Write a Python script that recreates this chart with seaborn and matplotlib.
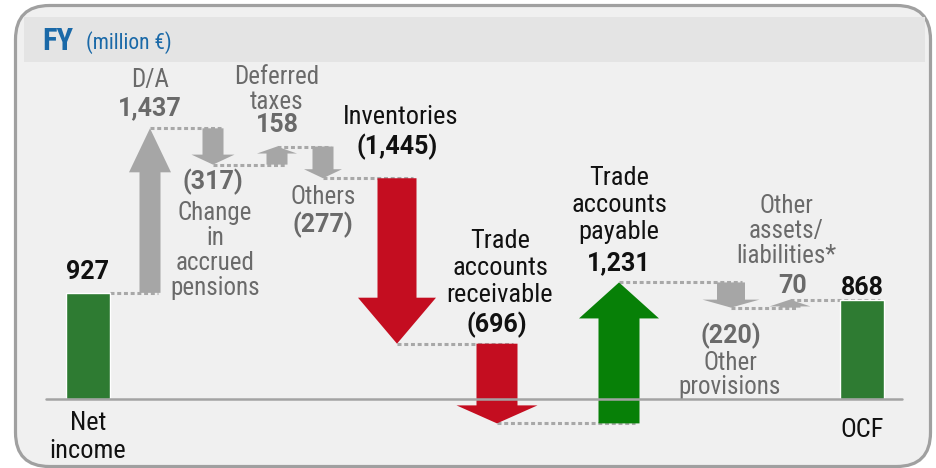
import numpy as np
import pandas as pd
import matplotlib
matplotlib.use("Agg")
import matplotlib.pyplot as plt
import seaborn as sns
from matplotlib.patches import Polygon, FancyBboxPatch, Rectangle
from matplotlib import font_manager

# ---------------- data ----------------
categories = ["Net income", "D/A", "Change in accrued pensions", "Deferred taxes",
              "Others", "Inventories", "Trade accounts receivable",
              "Trade accounts payable", "Other provisions",
              "Other assets/liabilities*", "OCF"]
values = [927, 1437, -317, 158, -277, -1445, -696, 1231, -220, 70, 868]
value_labels = ["927", "1,437", "(317)", "158", "(277)", "(1,445)", "(696)",
                "1,231", "(220)", "70", "868"]
kinds = ["total", "minor", "minor", "minor", "minor", "neg", "neg", "pos",
         "minor", "minor", "total"]

# ---------------- layout / style ----------------
x_pos = [88, 150, 213, 277, 323, 397, 497, 619, 731, 790, 862]
shaft_w = [45, 21, 21, 21, 21, 39, 41, 41, 28, 21, 44]
head_w = [0, 42, 43, 40, 38, 78, 81, 80, 57, 41, 0]
head_len = [0, 44, 10, 7, 9, 46, 18, 36, 8, 8, 0]
colors = {"total": "#2e7b32", "minor": "#a6a6a6", "neg": "#c40d20", "pos": "#078007"}

sns.set_theme(style="white")
names = {f.name for f in font_manager.fontManager.ttflist}
fam = next((n for n in ["Roboto Condensed", "Liberation Sans Narrow", "Arial Narrow", "Roboto"]
            if n in names), "DejaVu Sans")
numfam = "Roboto" if "Roboto" in names else fam
plt.rcParams['font.family'] = [fam, 'DejaVu Sans']

W, H = 937, 468
BASE, S = 399, 0.1145   # baseline pixel row and pixels per unit
fig = plt.figure(figsize=(W / 100, H / 100), dpi=100)
fig.patch.set_facecolor("white")

bg = fig.add_axes([0, 0, 1, 1], zorder=0)
bg.set_xlim(0, W)
bg.set_ylim(H, 0)
bg.set_axis_off()
bg.add_patch(FancyBboxPatch((15.5, 5.5), 915, 461, boxstyle="round,pad=0,rounding_size=34",
                            fc="#f0f0f0", ec="#a0a0a0", lw=2.3))
bg.add_patch(Rectangle((24, 17), 901, 45, fc="#e4e4e4", ec="none"))
bg.text(42, 50, "FY", color="#1a69a8", fontsize=22, fontweight="bold", va="baseline")
bg.text(86, 49, "(million €)", color="#1a69a8", fontsize=15.5, va="baseline")

ax = fig.add_axes([0, 0, 1, 1], zorder=2)
ax.patch.set_alpha(0)
upp = 1.0 / S

# totals as seaborn bars
tot_df = pd.DataFrame({"x": [x_pos[0], x_pos[-1]], "value": [values[0], values[-1]]})
sns.barplot(data=tot_df, x="x", y="value", native_scale=True,
            width=44 / (x_pos[-1] - x_pos[0]), color=colors["total"], saturation=1,
            ax=ax, zorder=3)

# cumulative levels
starts, ends = [], []
level = 0
for v, k in zip(values, kinds):
    if k == "total":
        starts.append(0); ends.append(v); level = v
    else:
        starts.append(level); ends.append(level + v); level += v

def arrow(x, y0, y1, sw, hw, hl_px, color):
    d = np.sign(y1 - y0)
    hl = min(hl_px * upp, 0.85 * abs(y1 - y0))
    yb = y1 - d * hl
    pts = [(x - sw / 2, y0), (x + sw / 2, y0), (x + sw / 2, yb), (x + hw / 2, yb),
           (x, y1), (x - hw / 2, yb), (x - sw / 2, yb)]
    ax.add_patch(Polygon(pts, closed=True, fc=color, ec="none", zorder=3))

for i, k in enumerate(kinds):
    if k != "total":
        arrow(x_pos[i], starts[i], ends[i], shaft_w[i], head_w[i], head_len[i], colors[k])

# dotted connectors
for i in range(len(values) - 1):
    if kinds[i] == "total":
        x0 = x_pos[i] + shaft_w[i] / 2
    else:
        x0 = x_pos[i]
    x1 = x_pos[i + 1] + 0.4 * shaft_w[i + 1]
    ax.plot([x0, x1], [ends[i], ends[i]], color="#a8a8a8", lw=2.2,
            linestyle=(0, (1.3, 0.9)), zorder=2, solid_capstyle="butt")

ax.plot([46, 902], [0, 0], color="#a3a3a3", lw=1.8, zorder=4)

ax.set_xlim(0, W)
ax.set_ylim((BASE - H) / S, BASE / S)
ax.set_axis_off()

# ---------------- texts (pixel coords) ----------------
BLK, GRY = "#111111", "#6a6a6a"
fsB, fsG, fsN = 19, 18, 18
def t(x, y, s, color, ls=None):
    bg.text(x, y, s, color=color, fontsize=fsB if color == BLK else fsG,
            ha="center", va="center",
            linespacing=ls or (1.16 if color == BLK else 1.05), zorder=5)

def num(x, y, s, color):
    bg.text(x, y, s, color=color, fontsize=fsN, fontweight="bold", family=[numfam, "DejaVu Sans"],
            ha="center", va="center", zorder=5)

num(x_pos[0], BASE - values[0] * S - 21, value_labels[0], BLK)
t(x_pos[0], 437, "Net\nincome", BLK)
t(150, 80, "D/A", GRY)
num(150, 108, value_labels[1], GRY)
num(213, 182, value_labels[2], GRY)
t(215, 250.5, "Change\nin\naccrued\npensions", GRY)
t(277, 89.5, "Deferred\ntaxes", GRY)
num(277, 125, value_labels[3], GRY)
t(323, 197, "Others", GRY)
num(323, 225, value_labels[4], GRY)
t(401, 117, "Inventories", BLK)
num(397, 147, value_labels[5], BLK)
t(500, 268, "Trade\naccounts\nreceivable", BLK)
num(497, 325, value_labels[6], BLK)
t(619, 205, "Trade\naccounts\npayable", BLK)
num(619, 263, value_labels[7], BLK)
num(731, 336, value_labels[8], GRY)
t(730, 375, "Other\nprovisions", GRY)
t(786, 231, "Other\nassets/\nliabilities*", GRY)
num(793, 286, value_labels[9], GRY)
num(862, 288, value_labels[10], BLK)
t(862, 430, "OCF", BLK)

fig.savefig("out.png", dpi=100, facecolor="white")
